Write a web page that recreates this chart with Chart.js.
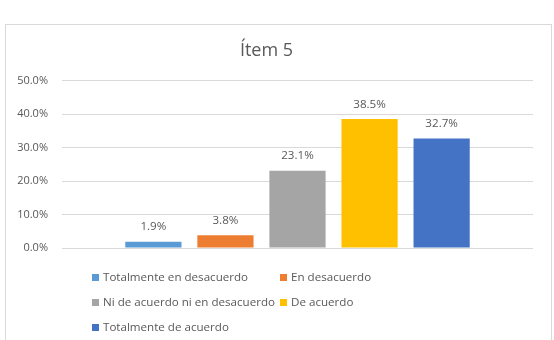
<!DOCTYPE html>
<html lang="es">
<head>
    <meta charset="UTF-8">
    <title>Ítem 5</title>
    <script src="https://cdn.jsdelivr.net/npm/chart.js@4.4.1/dist/chart.umd.min.js"></script>
    <style>
        body {
            margin: 0;
            background: white;
            font-family: "Open Sans", Arial, sans-serif;
        }

        .lienzo {
            position: relative;
            width: 554px;
            height: 340px;
            overflow: hidden;
        }

        .marco {
            position: absolute;
            left: 5px;
            top: 24px;
            width: 545px;
            height: 330px;
            border: 1px solid #d9d9d9;
        }

        canvas {
            position: absolute;
            left: 0;
            top: 0;
        }

        .leyenda {
            position: absolute;
            left: 92px;
            top: 268px;
            display: grid;
            grid-template-columns: 188px auto;
            row-gap: 7px;
            font-size: 11.6px;
            color: #595959;
        }

        .leyenda div {
            height: 18px;
            line-height: 18px;
            white-space: nowrap;
        }

        .leyenda span {
            display: inline-block;
            width: 7px;
            height: 7px;
            margin-right: 4px;
            vertical-align: 0px;
        }
    </style>
</head>
<body>
<div class="lienzo">
    <div class="marco"></div>
    <canvas id="grafico" width="554" height="340"></canvas>
    <div class="leyenda" id="leyenda"></div>
</div>

<script>
    const titulo = "Ítem 5";
    const respuestas = ["Totalmente en desacuerdo", "En desacuerdo", "Ni de acuerdo ni en desacuerdo", "De acuerdo", "Totalmente de acuerdo"];
    const porcentajes = [1.9, 3.8, 23.1, 38.5, 32.7];
    const colores = ["#5b9bd5", "#ed7d31", "#a5a5a5", "#ffc000", "#4472c4"];
    const ticksY = [0, 10, 20, 30, 40, 50];

    const gris = "#595959";
    const fuente = "'Open Sans', Arial, sans-serif";

    // etiquetas encima de cada barra
    const etiquetas = {
        id: "etiquetas",
        afterDatasetsDraw(chart) {
            const ctx = chart.ctx;
            ctx.save();
            ctx.font = "11.6px " + fuente;
            ctx.fillStyle = gris;
            ctx.textAlign = "center";
            ctx.textBaseline = "middle";
            chart.data.datasets.forEach((ds, i) => {
                const barra = chart.getDatasetMeta(i).data[0];
                ctx.fillText(ds.data[0].toFixed(1) + "%", barra.x, barra.y - 14.5);
            });
            ctx.restore();
        }
    };

    const grafico = new Chart(document.getElementById("grafico"), {
        type: "bar",
        data: {
            labels: [""],
            datasets: respuestas.map((r, i) => ({
                label: r,
                data: [porcentajes[i]],
                backgroundColor: colores[i],
                categoryPercentage: 0.765,
                barPercentage: 0.78
            }))
        },
        options: {
            responsive: false,
            animation: false,
            layout: {padding: {left: 0, right: 21, top: 0, bottom: 84}},
            plugins: {
                legend: {display: false},
                tooltip: {enabled: false},
                title: {
                    display: true,
                    text: titulo,
                    color: gris,
                    font: {family: fuente, size: 18, weight: "normal"},
                    padding: {top: 40, bottom: 19}
                }
            },
            scales: {
                x: {
                    ticks: {display: false},
                    grid: {display: false},
                    border: {display: false}
                },
                y: {
                    min: 0,
                    max: 50,
                    afterBuildTicks: (eje) => { eje.ticks = ticksY.map(v => ({value: v})); },
                    afterFit: (eje) => { eje.width = 62; },
                    ticks: {
                        padding: 14,
                        color: gris,
                        font: {family: fuente, size: 11},
                        callback: (v) => v.toFixed(1) + "%"
                    },
                    grid: {color: "#d9d9d9", drawTicks: false},
                    border: {display: false}
                }
            }
        },
        plugins: [etiquetas]
    });

    const leyenda = document.getElementById("leyenda");
    respuestas.forEach((r, i) => {
        const item = document.createElement("div");
        item.innerHTML = `<span style="background:${colores[i]}"></span>${r}`;
        leyenda.appendChild(item);
    });
</script>
</body>
</html>
